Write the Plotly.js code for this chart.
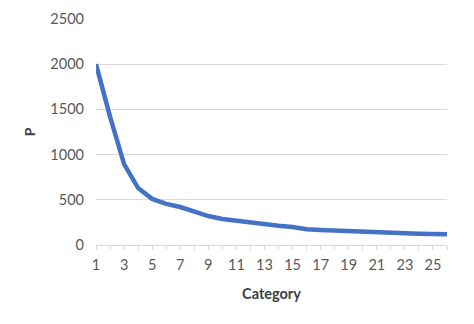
<!DOCTYPE html>
<html>
<head>
<meta charset="utf-8">
<script src="https://cdn.plot.ly/plotly-3.0.1.min.js"></script>
<style>html,body{margin:0;padding:0;background:#fff}#chart{width:474px;height:324px}</style>
</head>
<body>
<div id="chart"></div>
<script>
const categories = [1,2,3,4,5,6,7,8,9,10,11,12,13,14,15,16,17,18,19,20,21,22,23,24,25,26];
const pValues = [2000,1420,895,630,510,455,420,365,320,288,270,247,222,214,200,175,166,159,155,151,144,137,127,125,122,119];
const xTickVals = [1,3,5,7,9,11,13,15,17,19,21,23,25];
const yTickVals = [0,500,1000,1500,2000,2500];

const font = "Lato, 'Open Sans', sans-serif";
Plotly.newPlot('chart', [{
  x: categories,
  y: pValues,
  type: 'scatter',
  mode: 'lines',
  line: {color: '#4472C4', width: 4.5},
  hoverinfo: 'skip'
}], {
  width: 474, height: 324,
  margin: {l: 96, r: 27, t: 19, b: 79},
  paper_bgcolor: '#fff', plot_bgcolor: '#fff',
  showlegend: false,
  font: {family: font, size: 13, color: '#595959'},
  xaxis: {
    range: [1, 26],
    tickvals: xTickVals,
    ticktext: xTickVals.map(String),
    ticks: 'outside', ticklen: 4, tickcolor: '#d9d9d9', tickwidth: 1,
    minor: {dtick: 1, tick0: 1, ticks: 'outside', ticklen: 4, tickcolor: '#d9d9d9', showgrid: false},
    showline: true, linecolor: '#d9d9d9', linewidth: 1,
    showgrid: false, zeroline: false,
    ticklabelstandoff: 3,
    tickfont: {size: 14.5, color: '#595959'},
    title: {text: '<b>Category</b>', font: {size: 14.5, color: '#404040'}, standoff: 16},
    automargin: false
  },
  yaxis: {
    range: [0, 2500],
    tickvals: yTickVals,
    showgrid: true, gridcolor: '#d9d9d9', gridwidth: 1,
    zeroline: false, showline: false, ticks: '',
    ticklabelstandoff: 11,
    tickfont: {size: 14.5, color: '#595959'},
    title: {text: '<b>P</b>', font: {size: 14, color: '#404040'}, standoff: 11},
    automargin: false
  }
}, {staticPlot: true, displayModeBar: false});
</script>
</body>
</html>
